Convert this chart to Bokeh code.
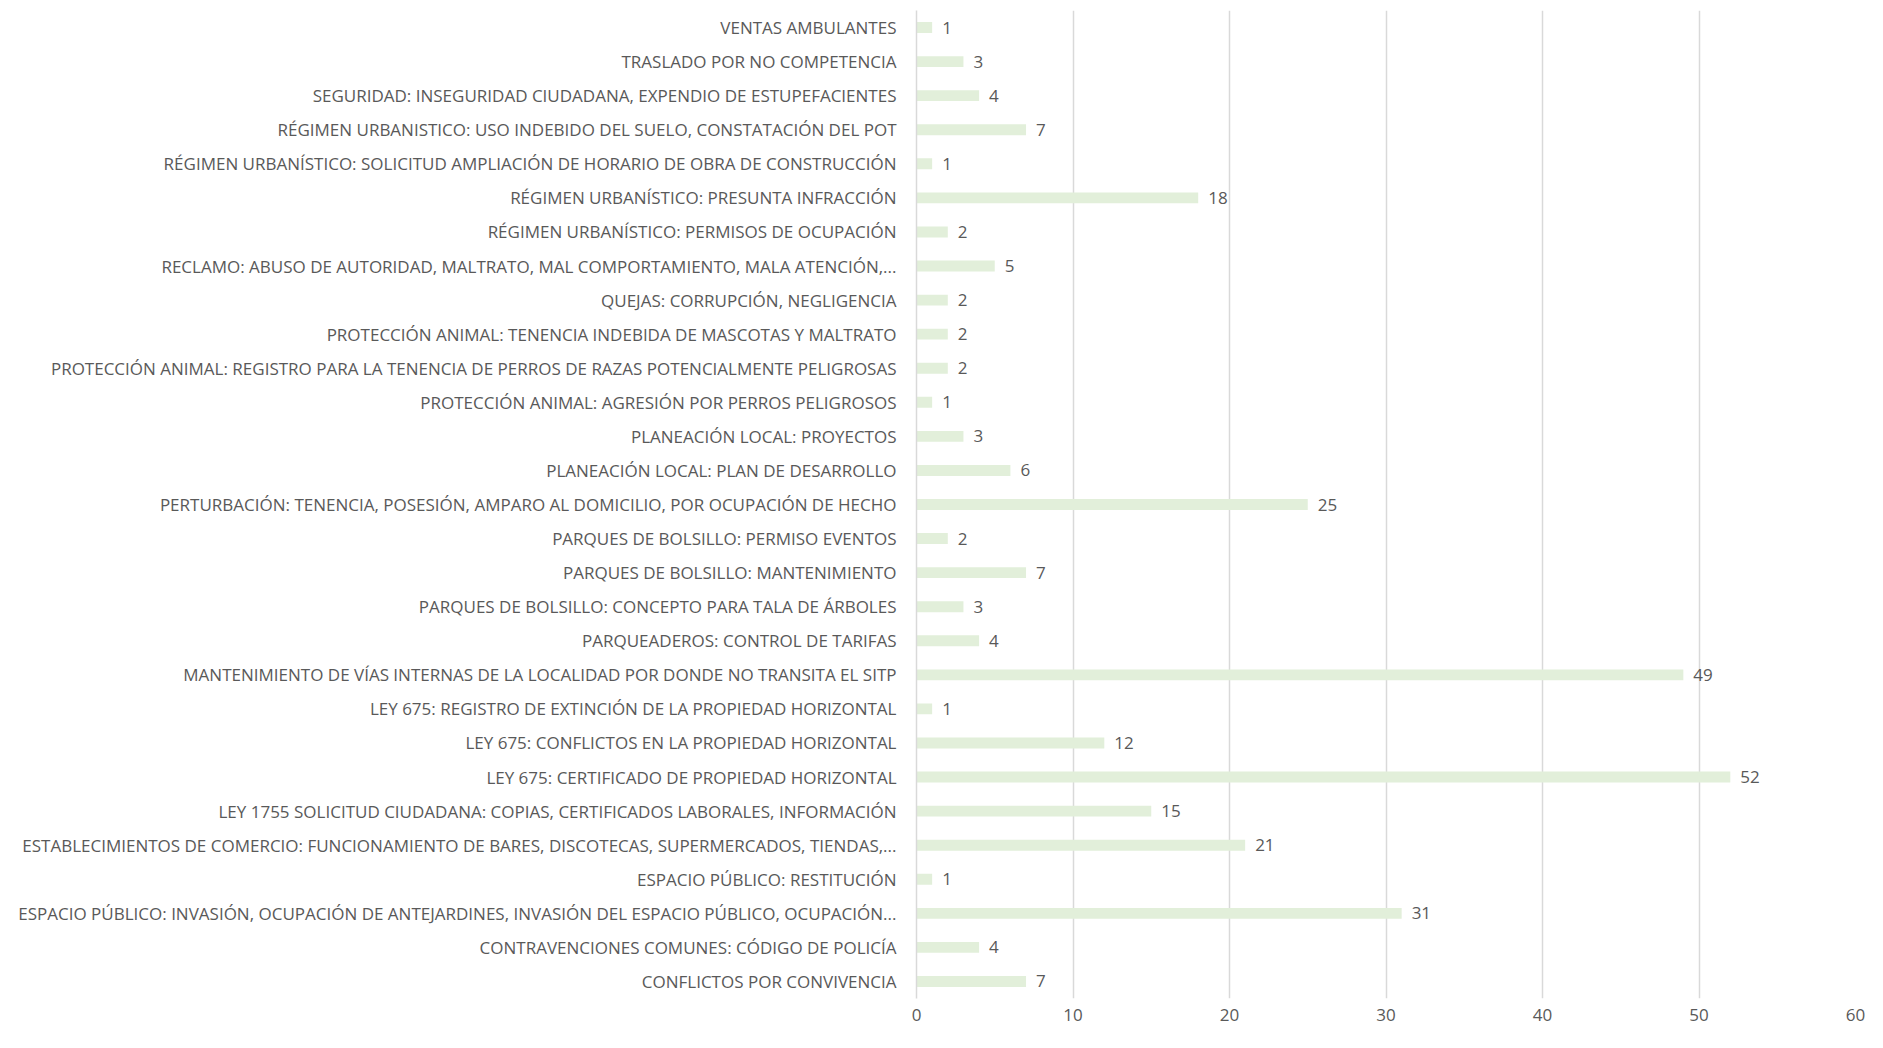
from bokeh.plotting import figure
from bokeh.models import FactorRange, FixedTicker, ColumnDataSource, Range1d
from bokeh.core.properties import value
from bokeh.embed import file_html
from bokeh.resources import INLINE

categories = [
    "VENTAS AMBULANTES",
    "TRASLADO POR NO COMPETENCIA",
    "SEGURIDAD: INSEGURIDAD CIUDADANA, EXPENDIO DE ESTUPEFACIENTES",
    "RÉGIMEN URBANISTICO: USO INDEBIDO DEL SUELO, CONSTATACIÓN DEL POT",
    "RÉGIMEN URBANÍSTICO: SOLICITUD AMPLIACIÓN DE HORARIO DE OBRA DE CONSTRUCCIÓN",
    "RÉGIMEN URBANÍSTICO: PRESUNTA INFRACCIÓN",
    "RÉGIMEN URBANÍSTICO: PERMISOS DE OCUPACIÓN",
    "RECLAMO: ABUSO DE AUTORIDAD, MALTRATO, MAL COMPORTAMIENTO, MALA ATENCIÓN,...",
    "QUEJAS: CORRUPCIÓN, NEGLIGENCIA",
    "PROTECCIÓN ANIMAL: TENENCIA INDEBIDA DE MASCOTAS Y MALTRATO",
    "PROTECCIÓN ANIMAL: REGISTRO PARA LA TENENCIA DE PERROS DE RAZAS POTENCIALMENTE PELIGROSAS",
    "PROTECCIÓN ANIMAL: AGRESIÓN POR PERROS PELIGROSOS",
    "PLANEACIÓN LOCAL: PROYECTOS",
    "PLANEACIÓN LOCAL: PLAN DE DESARROLLO",
    "PERTURBACIÓN: TENENCIA, POSESIÓN, AMPARO AL DOMICILIO, POR OCUPACIÓN DE HECHO",
    "PARQUES DE BOLSILLO: PERMISO EVENTOS",
    "PARQUES DE BOLSILLO: MANTENIMIENTO",
    "PARQUES DE BOLSILLO: CONCEPTO PARA TALA DE ÁRBOLES",
    "PARQUEADEROS: CONTROL DE TARIFAS",
    "MANTENIMIENTO DE VÍAS INTERNAS DE LA LOCALIDAD POR DONDE NO TRANSITA EL SITP",
    "LEY 675: REGISTRO DE EXTINCIÓN DE LA PROPIEDAD HORIZONTAL",
    "LEY 675: CONFLICTOS EN LA PROPIEDAD HORIZONTAL",
    "LEY 675: CERTIFICADO DE PROPIEDAD HORIZONTAL",
    "LEY 1755 SOLICITUD CIUDADANA: COPIAS, CERTIFICADOS LABORALES, INFORMACIÓN",
    "ESTABLECIMIENTOS DE COMERCIO: FUNCIONAMIENTO DE BARES, DISCOTECAS, SUPERMERCADOS, TIENDAS,...",
    "ESPACIO PÚBLICO: RESTITUCIÓN",
    "ESPACIO PÚBLICO: INVASIÓN, OCUPACIÓN DE ANTEJARDINES, INVASIÓN DEL ESPACIO PÚBLICO, OCUPACIÓN...",
    "CONTRAVENCIONES COMUNES: CÓDIGO DE POLICÍA",
    "CONFLICTOS POR CONVIVENCIA",
]
values = [1, 3, 4, 7, 1, 18, 2, 5, 2, 2, 2, 1, 3, 6, 25, 2, 7, 3, 4, 49, 1, 12, 52, 15, 21, 1, 31, 4, 7]
x_ticks = [0, 10, 20, 30, 40, 50, 60]

FONT = "Open Sans"
FONT_SIZE = "17px"
TEXT_COLOR = "#595959"
GRID_COLOR = "#D9D9D9"
BAR_COLOR = "#E2EFDA"

src = ColumnDataSource(dict(cat=categories, val=values, lab=[str(v) for v in values]))

p = figure(
    width=1867, height=1032,
    y_range=FactorRange(factors=categories[::-1], range_padding=0),
    x_range=Range1d(0, 60),
    output_backend="svg", toolbar_location=None,
    min_border_left=916, min_border_right=12, min_border_top=10, min_border_bottom=34,
)
p.outline_line_color = None
p.background_fill_color = "white"

p.hbar(y="cat", right="val", left=0, height=0.32, source=src,
       fill_color=BAR_COLOR, line_color=None)
p.text(x="val", y="cat", text="lab", source=src, x_offset=10,
       text_baseline="middle", text_align="left",
       text_font=value(FONT), text_font_size=FONT_SIZE, text_color=TEXT_COLOR)

p.xaxis.ticker = FixedTicker(ticks=x_ticks)
p.xaxis.axis_line_color = None
p.xaxis.major_tick_line_color = None
p.xaxis.minor_tick_line_color = None
p.xaxis.major_label_standoff = 4
p.xaxis.major_label_text_font = FONT
p.xaxis.major_label_text_font_size = FONT_SIZE
p.xaxis.major_label_text_color = TEXT_COLOR

p.yaxis.axis_line_color = GRID_COLOR
p.yaxis.axis_line_width = 1.5
p.yaxis.major_tick_line_color = None
p.yaxis.minor_tick_line_color = None
p.yaxis.major_label_standoff = 14
p.yaxis.major_label_text_font = FONT
p.yaxis.major_label_text_font_size = FONT_SIZE
p.yaxis.major_label_text_color = TEXT_COLOR

p.xgrid.grid_line_color = GRID_COLOR
p.xgrid.grid_line_width = 1.5
p.ygrid.grid_line_color = None

open("out.html", "w").write(file_html(p, INLINE))
